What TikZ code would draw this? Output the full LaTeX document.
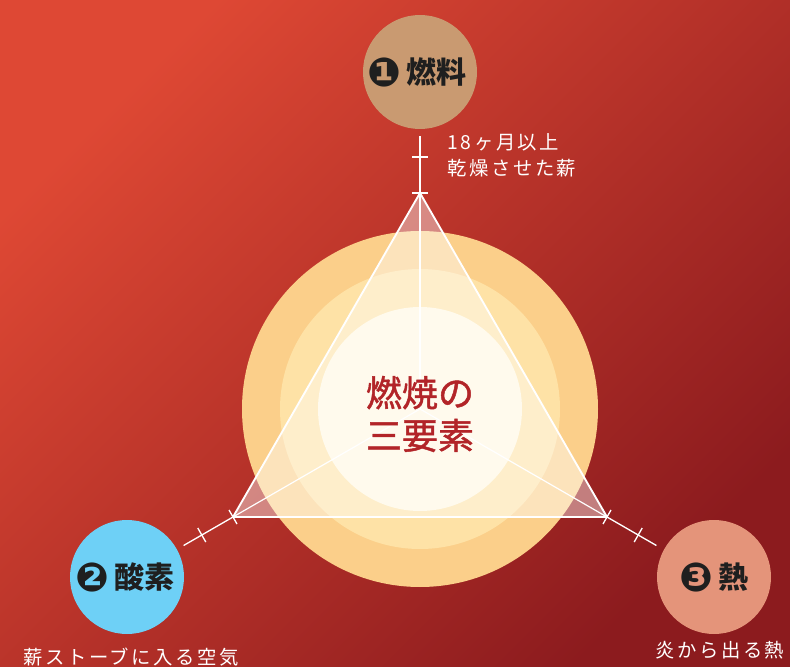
\documentclass[tikz,border=0pt]{standalone}
\usepackage{fontspec}
\setmainfont{Noto Sans CJK JP}
\newfontfamily\numfont{DejaVu Sans}
\usetikzlibrary{positioning}
\definecolor{bgTL}{RGB}{222,72,52}
\definecolor{bgBR}{RGB}{140,27,30}
\definecolor{fuelcol}{RGB}{201,154,113}
\definecolor{oxycol}{RGB}{110,208,246}
\definecolor{heatcol}{RGB}{228,148,122}
\definecolor{ringA}{RGB}{251,207,138}
\definecolor{ringB}{RGB}{254,226,166}
\definecolor{ringC}{RGB}{255,248,224}
\definecolor{titlered}{RGB}{178,36,40}
\tikzset{
  elem/.style={circle, minimum size=85.5pt, inner sep=0pt},
  elemtext/.style={font=\fontsize{22.5}{25}\selectfont\bfseries, text=black!88},
  note/.style={text=white, font=\fontsize{14.5}{19.5}\selectfont\addfontfeature{LetterSpace=13}},
  edge/.style={white, line width=1.4pt},
  tick/.style={white, line width=1pt}
}
\newcommand{\elemnum}[1]{\raisebox{-0.1em}{\numfont\fontsize{30}{30}\selectfont #1}}
\begin{document}
\begin{tikzpicture}[x=0.75pt,y=-0.75pt]
\useasboundingbox (0,0) rectangle (790,667);
\shade[left color=bgTL, right color=bgBR, shading angle=45] (0,0) rectangle (790,667);
% rings
\fill[ringA] (420,409) circle[radius=178];
\fill[ringB] (420,409) circle[radius=140];
\fill[ringC] (420,409) circle[radius=102];
% triangle
\coordinate (c) at (420,409);
\coordinate (v1) at (420,193);
\coordinate (v2) at (233,517);
\coordinate (v3) at (607,517);
\fill[white, opacity=0.42] (v1)--(v2)--(v3)--cycle;
\draw[white, line width=0.9pt] (c)--(v1); \draw[white, line width=0.9pt] (c)--(v2); \draw[white, line width=0.9pt] (c)--(v3);
\draw[edge, line join=miter] (v1)--(v2)--(v3)--cycle;
% elements
\node[elem, fill=fuelcol] (fuel) at (420,72) {};
\node[elem, fill=oxycol] (oxygen) at (127,577) {};
\node[elem, fill=heatcol] (heat) at (714,577) {};
\node[elemtext] (fuellabel) at (417,72) {\elemnum{❶}\,燃料};
\node[elemtext] (oxylabel) at (125,577) {\elemnum{❷}\,酸素};
\node[elemtext] (heatlabel) at (714,577) {\elemnum{❸}\,熱};
% legs
\coordinate (e1) at (420,136);
\coordinate (e2) at (183.6,545.5);
\coordinate (e3) at (656.4,545.5);
\draw[tick] (v1)--(e1); \draw[tick] (v2)--(e2); \draw[tick] (v3)--(e3);
\draw[tick] (412,193)--(428,193); \draw[tick] (412,157)--(428,157);
\draw[tick] (229,510)--(237,524); \draw[tick] (197.8,528)--(205.8,542);
\draw[tick] (611,510)--(603,524); \draw[tick] (642.2,528)--(634.2,542);
% notes
\node[note, align=left, anchor=west] (fuelnote) at (443,155) {18ヶ月以上\\乾燥させた薪};
\node[note] (oxynote) at (131,657) {薪ストーブに入る空気};
\node[note] (heatnote) at (720,650) {炎から出る熱};
% title
\node[align=center, text=titlered, font=\fontsize{27}{32}\selectfont\addfontfeature{FakeBold=1.3}] (title) at (420,414) {燃焼の\\三要素};
\end{tikzpicture}
\end{document}
